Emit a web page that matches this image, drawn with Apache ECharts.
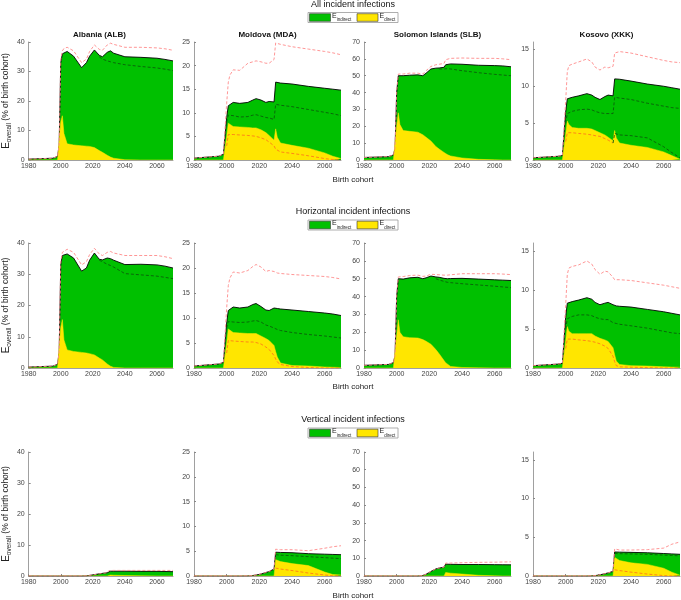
<!DOCTYPE html>
<html>
<head>
<meta charset="utf-8">
<script src="https://cdn.jsdelivr.net/npm/echarts@6/dist/echarts.min.js"></script>
<style>
  html, body { margin: 0; padding: 0; background: #fff; }
  #chart { width: 681px; height: 600px; }
</style>
</head>
<body>
<div id="chart"></div>
<script>
(function(){
  // birth cohorts
  const years = [1980, 1995, 1998, 1999, 2000, 2001, 2002, 2004, 2008, 2013, 2016, 2018, 2021, 2024, 2026, 2029, 2030, 2031, 2033, 2040, 2050, 2060, 2065, 2070];
  const countries = ["Albania (ALB)", "Moldova (MDA)", "Solomon Islands (SLB)", "Kosovo (XKK)"];
  const rowTitles = ["All incident infections", "Horizontal incident infections", "Vertical incident infections"];
  const legendNames = ["indirect", "direct"];
  const yMax = [40, 25, 70, 16];
  const yStep = [10, 5, 10, 5];
  const yTicks = [[0, 10, 20, 30, 40], [0, 5, 10, 15, 20, 25], [0, 10, 20, 30, 40, 50, 60, 70], [0, 5, 10, 15]];
  const xTicks = [1980, 2000, 2020, 2040, 2060];
  const N = null;

  // ---- All incident infections (ALB, MDA, SLB, XKK)
  const allTotal = [
    [0.3, 0.6, 1.2, 5, 33, 36, 36.5, 36.8, 35.2, 31.3, 33, 35.2, 37.3, 35.5, 35, 36.5, 36.8, 37, 36.2, 35, 34.8, 34.5, 34.1, 33.6],
    [0.4, 0.8, 1.2, 1.5, 9, 11.5, 11.8, 12.2, 12, 12.2, 12.7, 13, 12.7, 12.2, 12.4, 12.3, 16.5, 16.5, 16.3, 16.1, 15.6, 15.2, 15, 14.8],
    [1.5, 2, 3, 7, 40, 50, 50, 50, 50.3, 50.5, 50, 51.5, 54, 54.5, 54.6, 55, 56.5, 56.8, 57, 56.8, 56.2, 56, 55.8, 55.3],
    [0.3, 0.5, 0.6, 0.8, 6.5, 8.3, 8.4, 8.5, 8.7, 9, 8.8, 8.5, 8.2, 8.6, 8.8, 8.7, 11, 11, 10.95, 10.7, 10.3, 10, 9.8, 9.6]
  ];
  const allDirect = [
    [0, 0, 0, 0.5, 13, 15, 9, 5.5, 5.1, 4.8, 4.7, 4.6, 4.2, 3.2, 2.6, 1.6, 1.3, 1, 0.6, 0.1, 0, 0, 0, 0],
    [0, 0, 0, 0, 5, 7.8, 7.4, 7.1, 7, 6.9, 6.8, 6.8, 6.4, 5.8, 5.2, 4.2, 6.6, 4.8, 3.6, 3.1, 2.5, 1.5, 0.8, 0.3],
    [0, 0, 0, 0.5, 20, 28, 21, 17.5, 17, 16.5, 15, 13.5, 11.2, 8, 6.5, 4.5, 4, 3.2, 2.4, 1.2, 0.4, 0.1, 0, 0],
    [0, 0, 0, 0, 3.5, 5.3, 4.8, 4.4, 4.3, 4.3, 4.2, 4, 3.7, 3.4, 3.1, 2.6, 4, 3, 2.3, 2, 1.7, 1.1, 0.6, 0.1]
  ];
  const allHi = [
    [0.3, 0.6, 1.2, 5, 34, 37, 37.8, 38.2, 37, 33, 34.2, 36.8, 39, 37.5, 37.2, 39, 39.5, 39.6, 39.2, 38.2, 38.2, 38, 37.7, 37.2],
    [0.4, 0.8, 1.2, 1.5, 12, 16.5, 18, 19.1, 19, 20.5, 20.8, 21, 20.8, 20.5, 20.5, 21.3, 24.8, 24.7, 24.5, 24, 23.5, 23, 22.7, 22.3],
    [1.5, 2, 3, 7, 41, 51, 51, 51, 51.5, 51.5, 51, 53, 55.5, 56.5, 56.8, 57.3, 59.5, 60, 60.3, 60.5, 60.3, 60.3, 60, 59.5],
    [0.3, 0.5, 0.6, 0.8, 8, 12, 12.8, 13, 13.3, 13.7, 13.3, 12.6, 12.2, 12.6, 12.5, 12.7, 14.5, 14.6, 14.7, 14.5, 14, 13.5, 13.3, 13.2]
  ];
  const allLo = [
    [N, N, N, N, N, N, N, N, N, N, N, N, N, 35, 34.2, 33.6, 33.4, 33.3, 33, 32.3, 31.7, 31.2, 30.8, 30.3],
    [N, N, N, N, 8, 9.5, 9.4, 9.4, 9.1, 9.2, 9.5, 9.6, 9.3, 9, 8.9, 8.6, 11.8, 11.7, 11.6, 11.3, 10.7, 10.1, 9.8, 9.4],
    [N, N, N, N, N, N, N, N, N, N, N, N, N, N, 54, 54, 54.3, 54.2, 54, 53, 51.8, 50.8, 50.4, 50],
    [N, N, N, N, 5, 6.3, 6.4, 6.6, 6.8, 6.9, 6.8, 6.6, 6.4, 6.3, 6.3, 6.3, 8.5, 8.5, 8.4, 8.2, 7.7, 7.3, 7.1, 7]
  ];
  const allDirectLo = [
    null,
    [N, N, N, N, 3, 5.4, 5.4, 5.4, 5.3, 5.2, 5.1, 5, 4.7, 4.3, 3.8, 3, 2.3, 1.9, 1.7, 1.4, 0.9, 0.3, 0.1, 0],
    null,
    [N, N, N, N, 2.5, 3.7, 3.7, 3.7, 3.6, 3.5, 3.4, 3.3, 3.2, 2.9, 2.7, 2.3, 3.6, 3.5, 3.4, 3.3, 3, 1.8, 1, 0.3]
  ];

  // ---- Horizontal incident infections
  const horTotal = [
    [0.3, 0.6, 1.2, 5, 33, 36, 36.3, 36.5, 35.2, 31, 32, 34.5, 36.8, 34.8, 34.6, 35.2, 35.2, 35, 34.5, 33.1, 33.2, 33, 32.6, 32],
    [0.4, 0.8, 1.1, 1.3, 9, 11.5, 11.8, 12.2, 12, 12.2, 12.7, 12.9, 12.3, 11.6, 11.5, 12, 12, 11.9, 11.8, 11.6, 11.3, 11, 10.8, 10.5],
    [1.5, 2, 3, 7, 40, 50, 49.8, 49.8, 50.5, 50.8, 50, 50.5, 51.5, 51, 50.8, 50.2, 50, 50, 50.1, 50.2, 49.8, 49.4, 49.2, 49],
    [0.3, 0.5, 0.6, 0.7, 6.5, 8.3, 8.4, 8.5, 8.7, 9, 8.8, 8.4, 8.1, 8.3, 8.4, 8.1, 8, 7.95, 7.9, 7.8, 7.5, 7.2, 7, 6.8]
  ];
  const horDirect = [
    [0, 0, 0, 0.5, 13, 15.5, 9, 5.8, 5.3, 5, 4.8, 4.6, 4.2, 3.2, 2.6, 1.3, 1, 0.6, 0.2, 0, 0, 0, 0, 0],
    [0, 0, 0, 0, 5, 7.8, 7.4, 7.1, 7, 6.9, 6.9, 6.9, 6.4, 5.9, 5.5, 4.5, 3.3, 2.2, 1, 0.5, 0.4, 0.2, 0.15, 0.1],
    [0, 0, 0, 0.5, 18, 27, 20, 17.5, 17, 16.8, 15.9, 15, 13.3, 10.3, 8, 4.2, 3, 1.9, 0.9, 0.3, 0.1, 0, 0, 0],
    [0, 0, 0, 0, 3.5, 5.3, 4.7, 4.4, 4.4, 4.4, 4.4, 4.1, 3.8, 3.6, 3.4, 2.6, 1.7, 0.9, 0.45, 0.3, 0.25, 0.15, 0.12, 0.1]
  ];
  const horHi = [
    [0.3, 0.6, 1.2, 5, 34, 37, 37.5, 38, 37, 33, 34, 36.3, 38.3, 36.5, 36, 37, 37.4, 37.3, 36.8, 36, 36, 36, 35.6, 35],
    [0.4, 0.8, 1.1, 1.3, 12, 16.5, 18, 19.2, 19, 19.5, 20.3, 20.7, 20.2, 19.3, 19.5, 19.3, 19.2, 19, 18.9, 18.7, 18.5, 18.3, 18.1, 17.8],
    [1.5, 2, 3, 7, 41, 51, 51, 51.2, 51.8, 52, 51.3, 51.5, 52.5, 52.3, 52.2, 52, 52, 52, 52.2, 52.8, 52.8, 52.8, 52.6, 52.3],
    [0.3, 0.5, 0.6, 0.7, 8, 12, 12.8, 13, 13.2, 13.7, 13.3, 12.6, 12, 12.4, 12.3, 11.6, 11.3, 11.3, 11.3, 11.2, 10.9, 10.6, 10.4, 10.2]
  ];
  const horLo = [
    [N, N, N, N, N, N, N, N, N, N, N, N, N, 34.5, 34, 33.2, 33, 32.8, 32.3, 30.2, 29.8, 29.4, 29, 28.6],
    [N, N, N, N, 8, 9.3, 9.2, 9.2, 9.1, 9.2, 9.4, 9.5, 9.2, 8.6, 8.4, 8, 7.8, 7.7, 7.5, 7.1, 6.7, 6.4, 6.2, 6],
    [N, N, N, N, N, N, N, N, N, N, N, N, N, 50, 49.3, 48.5, 48.2, 48, 47.8, 47.2, 46.5, 45.8, 45.4, 45],
    [N, N, N, N, 5, 6.3, 6.4, 6.6, 6.8, 6.8, 6.7, 6.5, 6.3, 6.2, 6.2, 5.8, 5.7, 5.7, 5.6, 5.4, 5.1, 4.7, 4.5, 4.4]
  ];
  const horDirectLo = [
    null,
    [N, N, N, N, 3, 5.5, 5.5, 5.4, 5.3, 5.2, 5.2, 5.1, 4.8, 4.2, 3.7, 2.5, 1.8, 1.2, 0.7, 0.3, 0.1, 0, 0, 0],
    null,
    [N, N, N, N, 2.5, 3.7, 3.7, 3.7, 3.6, 3.5, 3.4, 3.3, 3.1, 2.8, 2.5, 1.5, 0.8, 0.3, 0.15, 0.1, 0.05, 0, 0, 0]
  ];

  // ---- Vertical incident infections
  const verTotal = [
    [0, 0, 0, 0, 0, 0, 0, 0, 0, 0, 0.05, 0.2, 0.45, 0.7, 0.85, 1.05, 1.5, 1.55, 1.55, 1.55, 1.5, 1.5, 1.45, 1.4],
    [0, 0, 0, 0, 0, 0, 0, 0, 0, 0.02, 0.1, 0.2, 0.4, 0.7, 0.9, 1.4, 4.8, 4.8, 4.75, 4.7, 4.5, 4.4, 4.35, 4.3],
    [0, 0, 0, 0, 0, 0, 0, 0, 0, 0, 0.3, 1, 2.6, 4, 4.5, 5, 6.7, 6.7, 6.6, 6.5, 6.5, 6.4, 6.35, 6.3],
    [0, 0, 0, 0, 0, 0, 0, 0, 0, 0, 0.02, 0.05, 0.15, 0.3, 0.4, 0.6, 3.1, 3.1, 3.08, 3.05, 3, 2.9, 2.85, 2.8]
  ];
  const verDirect = [
    [0, 0, 0, 0, 0, 0, 0, 0, 0, 0, 0, 0, 0, 0, 0, 0, 0.3, 0.3, 0.25, 0.15, 0.05, 0, 0, 0],
    [0, 0, 0, 0, 0, 0, 0, 0, 0, 0, 0, 0, 0, 0, 0, 0, 3.3, 3.1, 2.9, 2.5, 2.1, 0.8, 0.3, 0.2],
    [0, 0, 0, 0, 0, 0, 0, 0, 0, 0, 0, 0, 0, 0, 0, 0, 2, 1.8, 1.6, 1.1, 0.4, 0.1, 0, 0],
    [0, 0, 0, 0, 0, 0, 0, 0, 0, 0, 0, 0, 0, 0, 0, 0, 2.4, 2.2, 2, 1.7, 1.5, 1, 0.5, 0.1]
  ];
  const verHi = [
    [0, 0, 0, 0, 0, 0, 0, 0, 0, 0, 0.05, 0.2, 0.45, 0.7, 0.85, 1.05, 1.75, 1.8, 1.8, 1.8, 1.8, 1.8, 1.8, 1.8],
    [0, 0, 0, 0, 0, 0, 0, 0, 0, 0.02, 0.1, 0.2, 0.4, 0.7, 0.9, 1.4, 5.4, 5.35, 5.3, 5.3, 5.1, 5.6, 5.9, 6.1],
    [0, 0, 0, 0, 0, 0, 0, 0, 0, 0, 0.3, 1, 2.6, 4, 4.5, 5, 7.3, 7.3, 7.3, 7.5, 7.7, 7.8, 7.9, 8],
    [0, 0, 0, 0, 0, 0, 0, 0, 0, 0, 0.02, 0.05, 0.15, 0.3, 0.4, 0.6, 3.5, 3.4, 3.35, 3.35, 3.4, 3.6, 4.1, 4.4]
  ];
  const verLo = [
    null,
    [N, N, N, N, N, N, N, N, N, N, N, N, N, N, N, N, 4.3, 4.3, 4.2, 4.1, 3.9, 3.7, 3.6, 3.5],
    null,
    [N, N, N, N, N, N, N, N, N, N, N, N, N, N, N, N, 2.9, 2.9, 2.88, 2.85, 2.8, 2.7, 2.65, 2.6]
  ];
  const verDirectLo = [
    null,
    [N, N, N, N, N, N, N, N, N, N, N, N, N, N, N, N, 1.6, 1.5, 1.4, 1.1, 0.6, 0.2, 0.05, 0],
    null,
    [N, N, N, N, N, N, N, N, N, N, N, N, N, N, N, N, 0.8, 0.75, 0.7, 0.5, 0.25, 0.05, 0, 0]
  ];

  const rows = [
    { total: allTotal, direct: allDirect, hi: allHi, lo: allLo, dlo: allDirectLo },
    { total: horTotal, direct: horDirect, hi: horHi, lo: horLo, dlo: horDirectLo },
    { total: verTotal, direct: verDirect, hi: verHi, lo: verLo, dlo: verDirectLo }
  ];

  // layout
  const FONT = "Liberation Sans, Arial, sans-serif";
  const gridLeft = [26, 194, 364, 533];
  const gridWidth = 147;
  const gridTop = [42, 243, 452];
  const gridHeight = [118, 125, 124];
  const rowTitleTop = [0, 207, 415];
  const legendTop = [12.5, 220, 428];
  const xNameTop = [176, 383, 592];
  const GREEN = "#00c000", YELLOW = "#ffe600";
  // the dashed bounds are a half-transparent red; these are its looks over white, green and yellow
  const DASH_WHITE = "#ff8a8a", DASH_GREEN = "#0b5e0b", DASH_YELLOW = "#ff7a1a";

  const pairs = arr => years.map((y, i) => [y, arr[i]]);
  const subRich = {
    e: { fontFamily: FONT, fontSize: 7, fill: "#222", lineHeight: 10, verticalAlign: "top" },
    s: { fontFamily: FONT, fontSize: 4.5, fill: "#222", lineHeight: 10, verticalAlign: "bottom", padding: [3, 0, 0, 0] }
  };

  const grid = [], xAxis = [], yAxis = [], series = [], title = [], graphic = [];

  rows.forEach((row, r) => {
    title.push({
      text: rowTitles[r], left: 353, top: rowTitleTop[r], textAlign: "center", padding: 0,
      textStyle: { fontFamily: FONT, fontSize: 9, fontWeight: "normal", color: "#111" }
    });
    title.push({
      text: "Birth cohort", left: 353, top: xNameTop[r], textAlign: "center", padding: 0,
      textStyle: { fontFamily: FONT, fontSize: 8, fontWeight: "normal", color: "#222" }
    });

    // legend box drawn as graphics (one per row)
    const ly = legendTop[r];
    graphic.push({ type: "rect", silent: true, shape: { x: 308, y: ly, width: 90, height: 10 },
      style: { fill: "#fff", stroke: "#999", lineWidth: 0.8 } });
    [[309.5, GREEN, 332], [357, YELLOW, 379.5]].forEach((it, k) => {
      graphic.push({ type: "rect", silent: true, shape: { x: it[0], y: ly + 1.2, width: 21, height: 7.6 },
        style: { fill: it[1], stroke: "#333", lineWidth: 0.6 } });
      graphic.push({ type: "text", silent: true, x: it[2], y: ly,
        style: { text: "{e|E}{s|" + legendNames[k] + "}", rich: subRich } });
    });

    for (let c = 0; c < 4; c++) {
      const idx = grid.length;
      grid.push({ left: gridLeft[c], top: gridTop[r], width: gridWidth, height: gridHeight[r] });
      if (r === 0) {
        title.push({
          text: countries[c], left: gridLeft[c] + gridWidth / 2, top: 31, textAlign: "center", padding: 0,
          textStyle: { fontFamily: FONT, fontSize: 8, fontWeight: "bold", color: "#111" }
        });
      }
      xAxis.push({
        type: "value", gridIndex: idx, min: 1980, max: 2070, interval: 20,
        axisLine: { show: true, lineStyle: { color: "#888", width: 0.8 } },
        axisTick: { show: true, inside: true, length: 2, customValues: xTicks, lineStyle: { color: "#888" } },
        axisLabel: { customValues: xTicks, formatter: v => String(v), fontFamily: FONT, fontSize: 7, color: "#444", margin: 3 },
        splitLine: { show: false }
      });
      yAxis.push({
        type: "value", gridIndex: idx, min: 0, max: yMax[c], interval: yStep[c],
        axisLine: { show: true, lineStyle: { color: "#888", width: 0.8 } },
        axisTick: { show: true, inside: true, length: 2, customValues: yTicks[c], lineStyle: { color: "#888" } },
        axisLabel: { customValues: yTicks[c], fontFamily: FONT, fontSize: 7, color: "#444", margin: 4 },
        splitLine: { show: false },
        name: c === 0 ? "{e|E}{s|overall}{t| (% of birth cohort)}" : "",
        nameLocation: "middle", nameRotate: 90, nameGap: 14,
        nameTextStyle: {
          rich: {
            e: { fontFamily: FONT, fontSize: 10, color: "#222", lineHeight: 12, verticalAlign: "top" },
            s: { fontFamily: FONT, fontSize: 6.5, color: "#222", lineHeight: 12, verticalAlign: "bottom", padding: [4, 0, 0, 0] },
            t: { fontFamily: FONT, fontSize: 8.5, color: "#222", lineHeight: 12, verticalAlign: "top" }
          }
        }
      });

      const base = { type: "line", xAxisIndex: idx, yAxisIndex: idx, symbol: "none", silent: true, animation: false };
      series.push(Object.assign({}, base, {
        name: "E indirect", data: pairs(row.total[c]), z: 2,
        itemStyle: { color: GREEN },
        lineStyle: { color: "#000", width: 0.9 },
        areaStyle: { color: GREEN, opacity: 1 }
      }));
      series.push(Object.assign({}, base, {
        name: "E direct", data: pairs(row.direct[c]), z: 3,
        itemStyle: { color: YELLOW },
        lineStyle: { color: YELLOW, width: 0.5 },
        areaStyle: { color: YELLOW, opacity: 1 }
      }));
      const dashed = (data, col) => series.push(Object.assign({}, base, {
        name: "bound", data: data, z: 4,
        lineStyle: { color: col, width: 0.9, type: [3, 2] }
      }));
      if (row.hi[c]) dashed(pairs(row.hi[c]), DASH_WHITE);
      if (row.lo[c]) dashed(pairs(row.lo[c]), DASH_GREEN);
      if (row.dlo[c]) {
        const d = pairs(row.dlo[c]);
        if (r === 0 && c === 3) {
          // Kosovo, all infections: the direct bound leaves the yellow band after 2030
          dashed(d.map(p => [p[0], p[0] <= 2029 ? p[1] : null]), DASH_YELLOW);
          dashed(d.map(p => [p[0], p[0] >= 2029 ? p[1] : null]), DASH_GREEN);
        } else {
          dashed(d, DASH_YELLOW);
        }
      }
    }
  });

  const chart = echarts.init(document.getElementById("chart"));
  chart.setOption({
    backgroundColor: "#fff",
    animation: false,
    title: title,
    grid: grid,
    xAxis: xAxis,
    yAxis: yAxis,
    series: series,
    graphic: graphic
  });
  window.addEventListener("resize", () => chart.resize());
})();
</script>
</body>
</html>
